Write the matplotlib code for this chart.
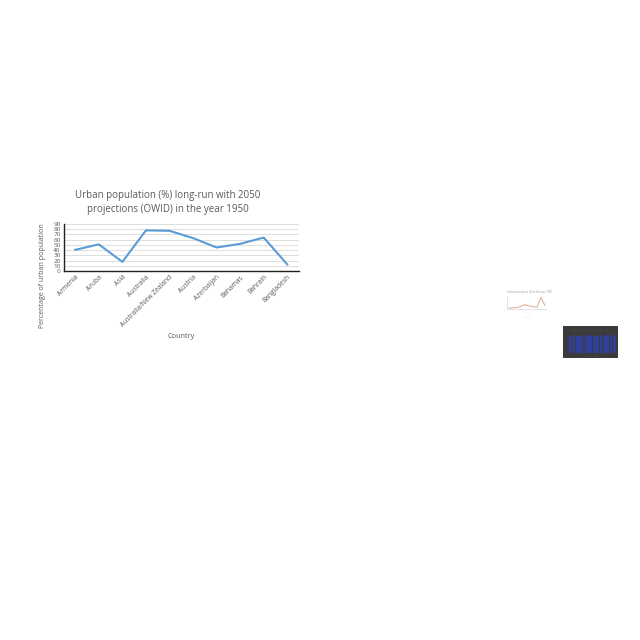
import matplotlib
matplotlib.use('Agg')
import matplotlib.pyplot as plt

# main chart data
countries = ['Armenia', 'Aruba', 'Asia', 'Australia', 'Australia/New Zealand',
             'Austria', 'Azerbaijan', 'Bahamas', 'Bahrain', 'Bangladesh']
urban_pct = [40.5, 51, 17.5, 77.8, 77, 63, 45, 52, 64, 12.7]
y_ticks = [0, 10, 20, 30, 40, 50, 60, 70, 80, 90]

# tiny thumbnails at the right
thumb_line = [3, 4, 5, 9, 15, 11, 8, 6, 40, 12]
thumb_bars = [88, 90, 87, 89, 91, 88, 90, 89, 87, 90, 88, 91, 89, 90]

plt.rcParams['font.family'] = ['Open Sans', 'DejaVu Sans']
GRAY = '#595959'
W = H = 640

fig = plt.figure(figsize=(6.4, 6.4), dpi=100)
fig.patch.set_facecolor('white')


def box(x0, y0, x1, y1):
    # pixel box (top-left origin) -> figure fraction rect
    return [x0 / W, 1 - y1 / H, (x1 - x0) / W, (y1 - y0) / H]


# --- main line chart ---
ax = fig.add_axes(box(63.5, 224, 299, 271))
xs = range(len(countries))
ax.plot(xs, urban_pct, color='#5b9bd5', lw=1.5, solid_joinstyle='round')
ax.set_xlim(-0.5, len(countries) - 0.5)
ax.set_ylim(0, 90)
ax.set_yticks(y_ticks)
ax.set_yticklabels([str(v) for v in y_ticks], fontsize=4.6, color=GRAY)
ax.set_xticks(list(xs))
ax.set_xticklabels(countries, rotation=45, ha='right', rotation_mode='anchor',
                   fontsize=4.8, color=GRAY)
ax.tick_params(length=0, pad=2)
ax.grid(axis='y', color='#d9d9d9', lw=0.6)
ax.set_axisbelow(True)
for side in ('top', 'right'):
    ax.spines[side].set_visible(False)
for side in ('left', 'bottom'):
    ax.spines[side].set_color('#202020')
    ax.spines[side].set_linewidth(1.0)

fig.text(168 / W, 1 - 202.5 / H,
         'Urban population (%) long-run with 2050\nprojections (OWID) in the year 1950',
         ha='center', va='center', fontsize=7.0, color=GRAY, linespacing=1.4)
fig.text(43 / W, 1 - 276 / H, 'Percentage of urban population',
         rotation=90, ha='center', va='center', fontsize=5.0, color=GRAY)
fig.text(181 / W, 1 - 336 / H, 'Country', ha='center', va='center',
         fontsize=5.2, color=GRAY)

# --- thumbnail 1: faded line chart ---
t1 = fig.add_axes(box(507, 296, 547, 309))
t1.plot(range(len(thumb_line)), thumb_line, color='#e0a88f', lw=0.7)
t1.set_xlim(-0.5, len(thumb_line) - 0.5)
t1.set_ylim(0, 45)
t1.set_xticks([])
t1.set_yticks([])
for side in ('top', 'right'):
    t1.spines[side].set_visible(False)
for side in ('left', 'bottom'):
    t1.spines[side].set_color('#d0d0d0')
    t1.spines[side].set_linewidth(0.4)
fig.text(529 / W, 1 - 292 / H, 'Urban population (%) in the year 1950',
         ha='center', va='center', fontsize=1.8, color='#909090')
fig.text(527 / W, 1 - 318 / H, 'Year', ha='center', va='center',
         fontsize=1.6, color='#c0c0c0')

# --- thumbnail 2: dark bar chart ---
bg = fig.add_axes(box(563, 326, 618, 358))
bg.set_facecolor('#3b3b3b')
bg.set_xticks([])
bg.set_yticks([])
for s in bg.spines.values():
    s.set_visible(False)
t2 = fig.add_axes(box(569, 335, 616, 353))
t2.set_facecolor('#3b3b3b')
t2.bar(range(len(thumb_bars)), thumb_bars, width=0.8, color='#30409a')
t2.set_xlim(-0.5, len(thumb_bars) - 0.5)
t2.set_ylim(0, 92)
t2.set_xticks([])
t2.set_yticks([])
for s in t2.spines.values():
    s.set_visible(False)
fig.text(590 / W, 1 - 329.5 / H, '______________________________',
         ha='center', va='center', fontsize=2, color='#6a6a6a')
fig.text(592 / W, 1 - 355.5 / H, '__________',
         ha='center', va='center', fontsize=2, color='#6a6a6a')

fig.savefig('out.png', dpi=100)
